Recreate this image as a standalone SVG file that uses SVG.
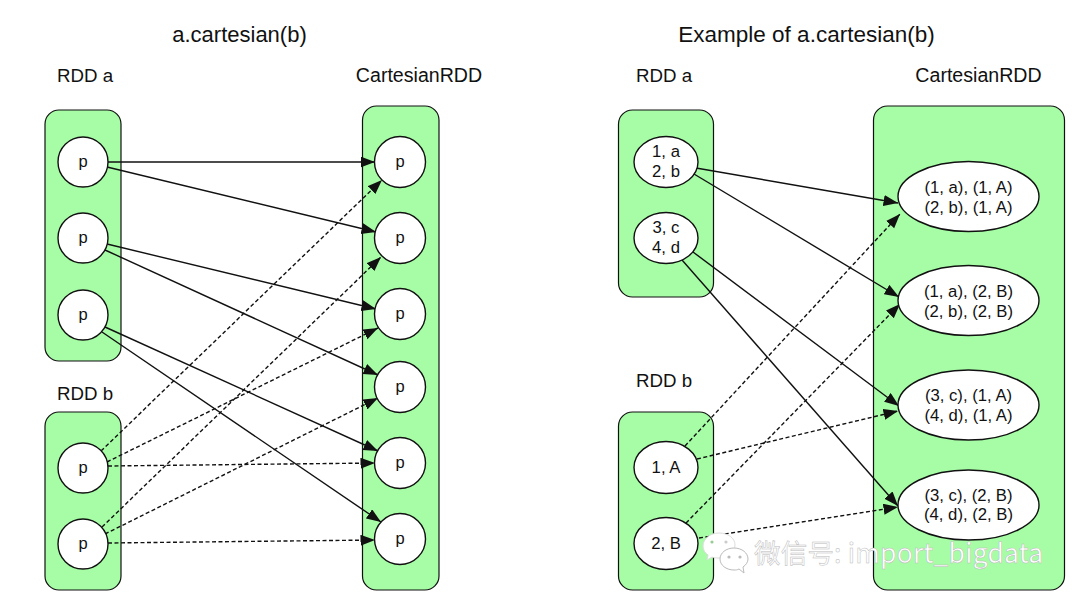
<svg xmlns="http://www.w3.org/2000/svg" width="1080" height="606" viewBox="0 0 1080 606">
<style>
text{font-family:"Liberation Sans",Arial,sans-serif;fill:#111;text-anchor:middle}
.t{font-size:22.500px}.h{font-size:19.600px}.r{font-size:18.700px}.p{font-size:16.500px}.s{font-size:16.700px}
.box{fill:#a6fda6;stroke:#111;stroke-width:1.2}
.n{fill:#fff;stroke:#111;stroke-width:1.4}
.c{fill:none;stroke:#111;stroke-width:1.4;marker-end:url(#a)}
.d{stroke-dasharray:4 2.500}
.w{font-family:"Noto Sans CJK SC","Noto Sans",sans-serif;font-size:26.500px;letter-spacing:.2px;fill:#fff;stroke:#bbb;stroke-width:.5;text-anchor:start}
</style>
<defs><marker id="a" markerUnits="userSpaceOnUse" markerWidth="16" markerHeight="12" refX="14.500" refY="5.500" orient="auto"><path d="M0 0L14.500 5.500L0 11Z" fill="#111"/></marker></defs>
<rect width="1080" height="606" fill="#fff"/>
<g id="titles">
<text class="t" x="239.500" y="42" style="font-size:22px">a.cartesian(b)</text>
<text class="t" x="806.500" y="42">Example of a.cartesian(b)</text>
<text class="r" x="85" y="82">RDD a</text>
<text class="h" x="419" y="82">CartesianRDD</text>
<text class="r" x="85" y="400">RDD b</text>
<text class="r" x="664" y="82">RDD a</text>
<text class="h" x="978.500" y="82">CartesianRDD</text>
<text class="r" x="664" y="387">RDD b</text>
</g>
<g id="containers">
<rect id="left-a" class="box" x="45" y="110" width="76" height="251" rx="14"/>
<rect id="left-b" class="box" x="45" y="412" width="76" height="178" rx="14"/>
<rect id="left-c" class="box" x="362.500" y="106" width="76.500" height="484" rx="14"/>
<rect id="right-a" class="box" x="618.500" y="110" width="95" height="187" rx="14"/>
<rect id="right-b" class="box" x="618.500" y="412" width="95" height="178" rx="14"/>
<rect id="right-c" class="box" x="873.500" y="106" width="191" height="484" rx="14"/>
</g>
<g id="connectors">
<path class="c" d="M108 162H375"/>
<path class="c" d="M107 167L376 232"/>
<path class="c" d="M107 244L376 309"/>
<path class="c" d="M105 250L378 375"/>
<path class="c" d="M105 327L378 451"/>
<path class="c" d="M102 332L381 522"/>
<path class="c d" d="M101 451L382 180"/>
<path class="c d" d="M107 462L378 328"/>
<path class="c d" d="M108 466L375 463"/>
<path class="c d" d="M102 527L381 257"/>
<path class="c d" d="M105 534L378 398"/>
<path class="c d" d="M108 543L375 540"/>
<path class="c" d="M696 168L898 203"/>
<path class="c" d="M694 174L899 297"/>
<path class="c" d="M693 252L899 406"/>
<path class="c" d="M682 260L898 506"/>
<path class="c d" d="M685 446L900 214"/>
<path class="c d" d="M686 523L900 304"/>
<path class="c d" d="M697 459L898 411"/>
<path class="c d" d="M699 538L898 507"/>
</g>
<g id="l1"><circle class="n" cx="83" cy="162" r="25"/><text class="p" x="83" y="167">p</text></g>
<g id="l2"><circle class="n" cx="83" cy="238" r="25"/><text class="p" x="83" y="243">p</text></g>
<g id="l3"><circle class="n" cx="83" cy="315" r="25"/><text class="p" x="83" y="320">p</text></g>
<g id="l4"><circle class="n" cx="83" cy="468" r="25"/><text class="p" x="83" y="473">p</text></g>
<g id="l5"><circle class="n" cx="83" cy="544" r="25"/><text class="p" x="83" y="549">p</text></g>
<g id="c1"><circle class="n" cx="400" cy="162" r="25.500"/><text class="p" x="400" y="167">p</text></g>
<g id="c2"><circle class="n" cx="400" cy="238" r="25.500"/><text class="p" x="400" y="243">p</text></g>
<g id="c3"><circle class="n" cx="400" cy="314" r="25.500"/><text class="p" x="400" y="319">p</text></g>
<g id="c4"><circle class="n" cx="400" cy="387" r="25.500"/><text class="p" x="400" y="392">p</text></g>
<g id="c5"><circle class="n" cx="400" cy="463" r="25.500"/><text class="p" x="400" y="468">p</text></g>
<g id="c6"><circle class="n" cx="400" cy="539" r="25.500"/><text class="p" x="400" y="544">p</text></g>
<g id="ra1"><ellipse class="n" cx="666" cy="162" rx="32" ry="25.500"/><text class="s" x="666" y="157">1, a</text><text class="s" x="666" y="177">2, b</text></g>
<g id="ra2"><ellipse class="n" cx="666" cy="238" rx="32" ry="25.500"/><text class="s" x="666" y="233">3, c</text><text class="s" x="666" y="253">4, d</text></g>
<g id="rb1"><ellipse class="n" cx="666" cy="467.500" rx="32" ry="26"/><text class="s" x="666" y="473">1, A</text></g>
<g id="rb2"><ellipse class="n" cx="666" cy="543.500" rx="32" ry="26"/><text class="s" x="666" y="549">2, B</text></g>
<g id="rc1"><ellipse class="n" cx="968.500" cy="196.500" rx="70.500" ry="35"/><text class="s" x="968.500" y="193">(1, a), (1, A)</text><text class="s" x="968.500" y="212.500">(2, b), (1, A)</text></g>
<g id="rc2"><ellipse class="n" cx="968.500" cy="300.500" rx="70.500" ry="35"/><text class="s" x="968.500" y="297">(1, a), (2, B)</text><text class="s" x="968.500" y="317">(2, b), (2, B)</text></g>
<g id="rc3"><ellipse class="n" cx="968.500" cy="405" rx="70.500" ry="35"/><text class="s" x="968.500" y="401">(3, c), (1, A)</text><text class="s" x="968.500" y="421">(4, d), (1, A)</text></g>
<g id="rc4"><ellipse class="n" cx="968.500" cy="505" rx="70.500" ry="35"/><text class="s" x="968.500" y="501">(3, c), (2, B)</text><text class="s" x="968.500" y="520">(4, d), (2, B)</text></g>
<g id="watermark">
<path d="M719 533c-9 0-16 6-16 13 0 4 2 7 5 9l-1 5 5-3c2 1 4 1 7 1 9 0 16-6 16-13s-7-12-16-12Z" fill="#fff" stroke="#ddd"/>
<path d="M734 548c-8 0-14 5-14 11s6 11 14 11c2 0 3 0 5-1l5 4-1-6c3-2 5-5 5-8 0-6-6-11-14-11Z" fill="#fff" stroke="#bbb"/>
<circle cx="712" cy="542" r="1.600" fill="#9c9"/><circle cx="726" cy="542" r="1.600" fill="#ccc"/><circle cx="729" cy="557" r="1.600" fill="#bbb"/><circle cx="740" cy="557" r="1.600" fill="#bbb"/>
<text class="w" x="754" y="563">微信号: import_bigdata</text>
</g>
</svg>
